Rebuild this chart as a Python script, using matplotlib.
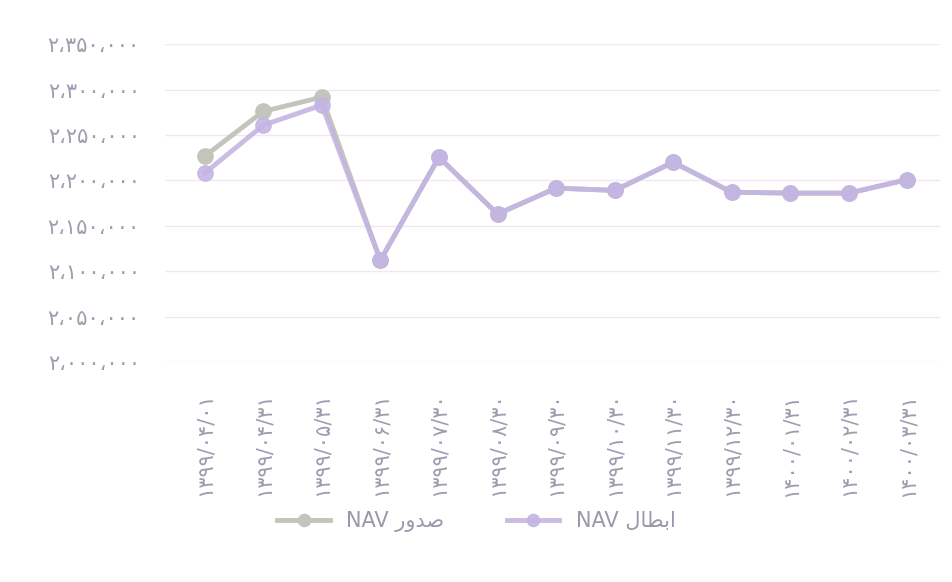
import matplotlib.pyplot as plt

plt.rcParams['font.family'] = ['DejaVu Sans']

# dates (Persian calendar) on x axis
dates = ['۱۳۹۹/۰۴/۰۱', '۱۳۹۹/۰۴/۳۱', '۱۳۹۹/۰۵/۳۱', '۱۳۹۹/۰۶/۳۱', '۱۳۹۹/۰۷/۳۰',
         '۱۳۹۹/۰۸/۳۰', '۱۳۹۹/۰۹/۳۰', '۱۳۹۹/۱۰/۳۰', '۱۳۹۹/۱۱/۳۰', '۱۳۹۹/۱۲/۳۰',
         '۱۴۰۰/۰۱/۳۱', '۱۴۰۰/۰۲/۳۱', '۱۴۰۰/۰۳/۳۱']
# NAV values
nav_issue = [2226700, 2276000, 2291700, 2112000, 2225600, 2163000, 2191500,
             2189000, 2220000, 2187000, 2186000, 2186000, 2201000]
nav_cancel = [2208000, 2260800, 2283000, 2112000, 2225600, 2163000, 2191500,
              2189000, 2220000, 2187000, 2186000, 2186000, 2201000]

yticks = [2000000, 2050000, 2100000, 2150000, 2200000, 2250000, 2300000, 2350000]
ytick_labels = ['۲،۰۰۰،۰۰۰', '۲،۰۵۰،۰۰۰', '۲،۱۰۰،۰۰۰', '۲،۱۵۰،۰۰۰',
                '۲،۲۰۰،۰۰۰', '۲،۲۵۰،۰۰۰', '۲،۳۰۰،۰۰۰', '۲،۳۵۰،۰۰۰']

# legend labels (Arabic presentation forms, visual order)
label_issue = 'NAV ' + 'ﺭﻭﺪﺻ'
label_cancel = 'NAV ' + 'ﻝﺎﻄﺑﺍ'

fig = plt.figure(figsize=(9.53, 5.82), dpi=100)
ax = fig.add_axes([0.173, 0.378, 0.813, 0.546])

x = list(range(len(dates)))
ax.plot(x, nav_issue, color='#c3c5bd', linewidth=3.5, marker='o', markersize=11,
        label=label_issue)
ax.plot(x, nav_cancel, color='#c4b5e3', linewidth=3.5, marker='o', markersize=11,
        label=label_cancel, alpha=0.9)

ax.set_xlim(-0.68, 12.55)
ax.set_ylim(2000000, 2350000)
ax.set_yticks(yticks)
ax.set_yticklabels(ytick_labels)
ax.set_xticks(x)
ax.set_xticklabels(dates, rotation=90)
ax.tick_params(axis='y', length=0, pad=18, labelsize=15, labelcolor='#a09cb0')
ax.tick_params(axis='x', length=0, pad=22, labelsize=15, labelcolor='#a09cb0')
ax.grid(True, axis='y', color='#f3e6f0', linewidth=1)
ax.set_axisbelow(True)
for s in ax.spines.values():
    s.set_visible(False)

fig.legend(loc='center', bbox_to_anchor=(0.5, 1 - 522 / 582), ncol=2,
           frameon=False, fontsize=15, labelcolor='#9c98ac', handlelength=2.5,
           columnspacing=3, markerscale=0.8)

plt.savefig('out.png', dpi=100)
